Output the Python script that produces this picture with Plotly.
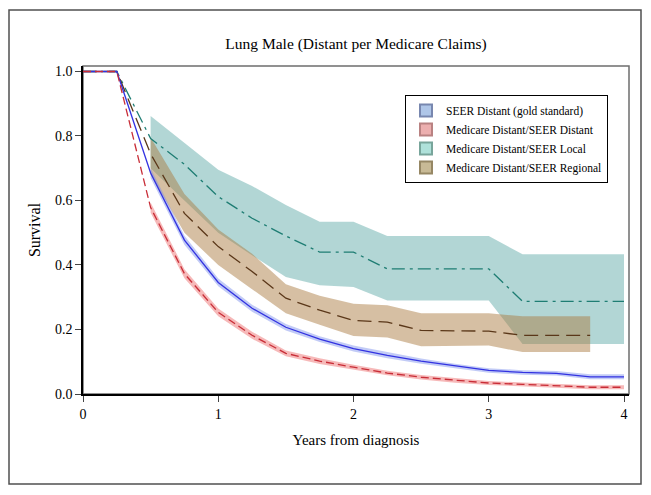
import plotly.graph_objects as go

# ---- data ----
times = [0, 0.25, 0.5, 0.75, 1.0, 1.25, 1.5, 1.75, 2.0, 2.25, 2.5, 2.75, 3.0, 3.25, 3.5, 3.75, 4.0]
band_times = times[2:]

seer_distant = [1, 1, 0.685, 0.477, 0.346, 0.266, 0.207, 0.170, 0.141, 0.120, 0.102, 0.087, 0.073, 0.067, 0.064, 0.053, 0.053]
seer_distant_lo = [0.670, 0.463, 0.334, 0.255, 0.197, 0.161, 0.132, 0.111, 0.094, 0.080, 0.066, 0.060, 0.057, 0.046, 0.046]
seer_distant_hi = [0.700, 0.491, 0.358, 0.277, 0.217, 0.179, 0.150, 0.129, 0.110, 0.094, 0.080, 0.074, 0.071, 0.061, 0.061]

med_distant = [1, 1, 0.578, 0.373, 0.253, 0.182, 0.126, 0.102, 0.083, 0.065, 0.052, 0.042, 0.034, 0.030, 0.025, 0.021, 0.021]
med_distant_lo = [0.562, 0.359, 0.241, 0.171, 0.117, 0.093, 0.075, 0.058, 0.045, 0.035, 0.028, 0.024, 0.019, 0.015, 0.015]
med_distant_hi = [0.594, 0.387, 0.265, 0.193, 0.135, 0.111, 0.091, 0.072, 0.059, 0.049, 0.040, 0.036, 0.031, 0.027, 0.027]

med_local = [1, 1, 0.792, 0.712, 0.612, 0.545, 0.490, 0.440, 0.440, 0.388, 0.388, 0.388, 0.388, 0.287, 0.287, 0.287, 0.287]
med_local_lo = [0.700, 0.600, 0.500, 0.430, 0.363, 0.337, 0.332, 0.290, 0.290, 0.290, 0.290, 0.155, 0.155, 0.155, 0.155]
med_local_hi = [0.862, 0.778, 0.695, 0.645, 0.586, 0.534, 0.534, 0.490, 0.490, 0.490, 0.490, 0.433, 0.433, 0.433, 0.433]

reg_times = times[:16]
reg_band_times = times[2:16]
med_regional = [1, 1, 0.745, 0.560, 0.457, 0.380, 0.297, 0.260, 0.228, 0.223, 0.197, 0.197, 0.195, 0.182, 0.182, 0.182]
med_regional_lo = [0.680, 0.500, 0.400, 0.325, 0.250, 0.215, 0.180, 0.175, 0.148, 0.148, 0.150, 0.130, 0.130, 0.130]
med_regional_hi = [0.795, 0.620, 0.510, 0.435, 0.340, 0.305, 0.280, 0.275, 0.250, 0.250, 0.250, 0.241, 0.241, 0.241]

legend_labels = ["SEER Distant (gold standard)", "Medicare Distant/SEER Distant",
                 "Medicare Distant/SEER Local", "Medicare Distant/SEER Regional"]

x_ticks = [0, 1, 2, 3, 4]
y_ticks = [0.0, 0.2, 0.4, 0.6, 0.8, 1.0]
y_ticklabels = ["0.0", "0.2", "0.4", "0.6", "0.8", "1.0"]

FONT = "Liberation Serif"

fig = go.Figure()

def band(t, lo, hi, color):
    fig.add_trace(go.Scatter(
        x=list(t) + list(t)[::-1], y=list(hi) + list(lo)[::-1],
        fill="toself", fillcolor=color, line=dict(width=0),
        mode="lines", showlegend=False, hoverinfo="skip"))

band(band_times, med_local_lo, med_local_hi, "rgba(95,170,168,0.48)")
band(reg_band_times, med_regional_lo, med_regional_hi, "rgba(170,122,62,0.48)")
band(band_times, seer_distant_lo, seer_distant_hi, "rgba(120,140,235,0.45)")
band(band_times, med_distant_lo, med_distant_hi, "rgba(235,100,100,0.45)")

fig.add_trace(go.Scatter(x=times, y=med_local, mode="lines", showlegend=False,
                         line=dict(color="rgb(30,125,115)", width=1.3, dash="13px,5px,3px,5px")))
fig.add_trace(go.Scatter(x=reg_times, y=med_regional, mode="lines", showlegend=False,
                         line=dict(color="rgb(90,55,25)", width=1.3, dash="14px,7px")))
fig.add_trace(go.Scatter(x=times, y=seer_distant, mode="lines", showlegend=False,
                         line=dict(color="rgb(50,50,225)", width=1.3)))
fig.add_trace(go.Scatter(x=times, y=med_distant, mode="lines", showlegend=False,
                         line=dict(color="rgb(200,45,55)", width=1.3, dash="8px,4px")))

# legend entries
patch_fill = ["rgb(175,198,232)", "rgb(236,175,175)", "rgb(175,225,218)", "rgb(200,186,150)"]
patch_line = ["rgb(120,135,175)", "rgb(185,130,130)", "rgb(120,165,155)", "rgb(150,135,100)"]
for lab, fc, lc in zip(legend_labels, patch_fill, patch_line):
    fig.add_trace(go.Scatter(x=[None], y=[None], mode="markers", name=lab,
                             marker=dict(symbol="square", size=10, color=fc,
                                         line=dict(color=lc, width=1))))

W, H = 643, 487  # page body has an 8px offset
L, T = 75, 58
PW, PH = 546, 328

fig.update_layout(
    width=W, height=H,
    margin=dict(l=L, r=W - L - PW, t=T, b=H - T - PH),
    paper_bgcolor="white", plot_bgcolor="white",
    font=dict(family=FONT, color="black", size=13),
    title=dict(text="Lung Male (Distant per Medicare Claims)", x=(L + PW / 2) / W, xanchor="center",
               y=1 - 36 / H, yanchor="middle", yref="container",
               font=dict(family=FONT, size=15.5, color="black")),
    xaxis=dict(range=[0, 4.037], tickvals=x_ticks, ticks="outside", ticklen=6,
               showline=True, linecolor="black", linewidth=1.5, showgrid=False, zeroline=False,
               tickfont=dict(size=14), title=dict(text="Years from diagnosis", font=dict(size=15), standoff=14)),
    yaxis=dict(range=[0, 1.017], tickvals=y_ticks, ticktext=y_ticklabels, ticks="outside", ticklen=6,
               showline=True, linecolor="black", linewidth=1.5, showgrid=False, zeroline=False,
               tickfont=dict(size=14), title=dict(text="Survival", font=dict(size=16), standoff=10)),
    legend=dict(x=(405 - 83) / PW, y=(394 - 95) / PH, xanchor="left", yanchor="top",
                bordercolor="black", borderwidth=1, bgcolor="white",
                font=dict(family=FONT, size=11.5), tracegroupgap=0, itemsizing="constant"),
    showlegend=True,
)

# plot frame (top/right) and outer frame
fig.add_shape(type="rect", xref="paper", yref="paper", x0=0, y0=0, x1=1, y1=1,
              line=dict(color="rgb(110,110,110)", width=1.5), layer="below")
fig.add_shape(type="rect", xref="paper", yref="paper",
              x0=(1 - L) / PW, x1=(633 - L) / PW, y0=(T + PH - 476) / PH, y1=(T + PH - 2) / PH,
              line=dict(color="rgb(80,80,80)", width=1.5), layer="below")

fig.write_html("out.html")
